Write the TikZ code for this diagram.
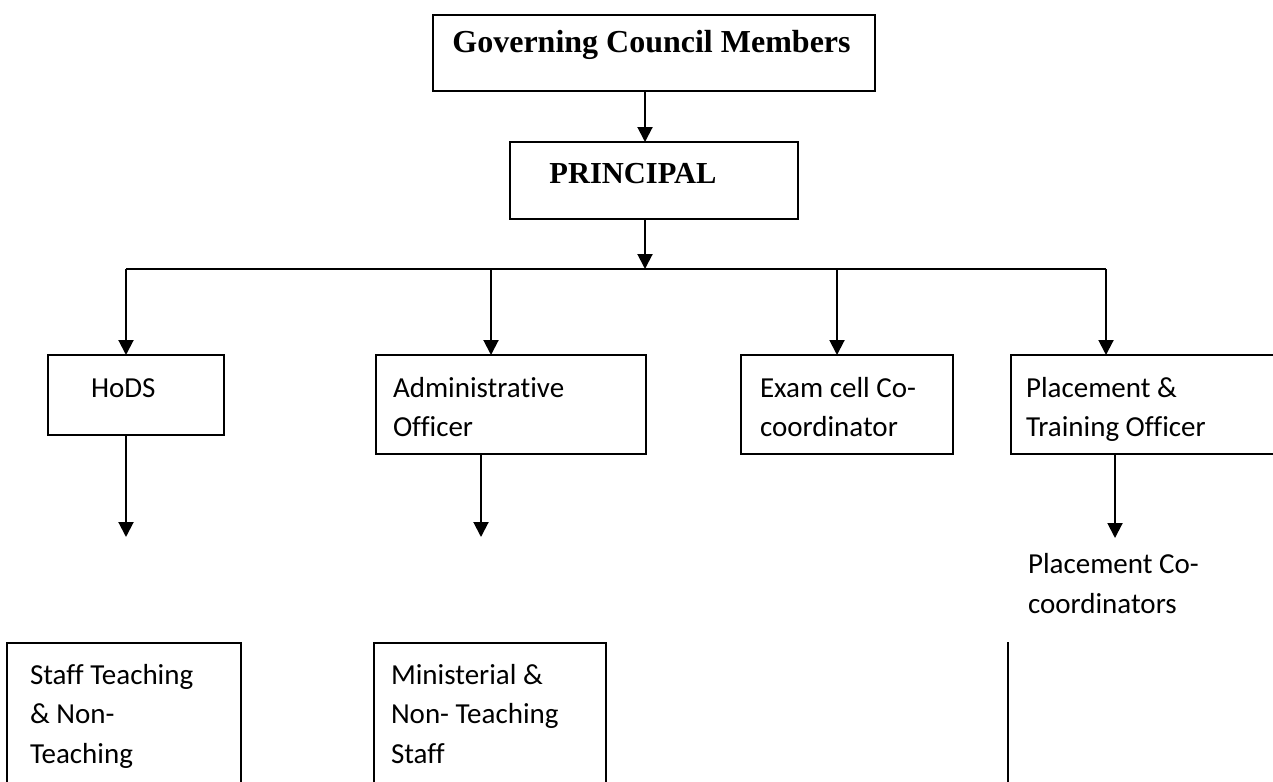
\documentclass[tikz,border=0pt]{standalone}
\usepackage{fontspec}
\setmainfont{Carlito}[Ligatures=NoCommon]
\newfontfamily\tnrbold{Liberation Serif}[BoldFont={Liberation Serif Bold}]
\usetikzlibrary{arrows.meta,calc}
\newcommand{\mlcell}[1]{\begin{tabular}[t]{@{}l@{}}#1\end{tabular}}
\tikzset{
  boxnode/.style={draw, line width=#1, inner sep=0pt, outer sep=0pt, anchor=north west, rectangle},
  boxnode/.default=2pt,
  openbox/.style={inner sep=0pt, outer sep=0pt, anchor=north west, rectangle},
  boxedge/.style={line width=#1, line cap=rect},
  boxedge/.default=2.8pt,
  arr/.style={line width=2pt, -{Triangle[width=15pt,length=15pt]}},
  busline/.style={line width=1.4pt},
  lbl/.style={inner sep=0pt, outer sep=0pt, anchor=base west, font=\fontsize{29}{39.5}\selectfont},
  hdr/.style={inner sep=0pt, outer sep=0pt, anchor=base, font=\tnrbold\bfseries\fontsize{#1}{#1}\selectfont},
}
\begin{document}
\begin{tikzpicture}[x=1pt,y=-1pt]
\useasboundingbox (0,0) rectangle (1273,781);
\fill[white] (0,0) rectangle (1273,781);

% top boxes
\node[boxnode=1.1pt, minimum width=442pt, minimum height=76pt] (gcm) at (433,15) {};
\node[hdr=32] (gcmt) at (651.5,53) {Governing Council Members};
\node[boxnode=1.2pt, minimum width=288pt, minimum height=77pt] (prin) at (510,142) {};
\node[hdr=30.5] (print) at (633,183) {PRINCIPAL};

% second level boxes
\node[boxnode, minimum width=176pt, minimum height=80pt] (hods) at (48,355) {};
\node[lbl] (hodst) at (91,397) {HoDS};
\node[boxnode, minimum width=270pt, minimum height=99pt] (admin) at (376,355) {};
\node[lbl] (admint) at (393,397) {\mlcell{Administrative\\Officer}};
\node[boxnode, minimum width=212pt, minimum height=99pt] (exam) at (741,355) {};
\node[lbl] (examt) at (760,397) {\mlcell{Exam cell Co-\\coordinator}};
\node[openbox, minimum width=275pt, minimum height=99pt] (place) at (1011,355) {};
\draw[boxedge=2pt] (place.north east) -- (place.north west) -- (place.south west) -- (place.south east);
\node[lbl] (placet) at (1026,397) {\mlcell{Placement \&\\Training Officer}};

% placement coordinators (free text)
\node[lbl, font=\fontsize{29}{40}\selectfont] (pcc) at (1028,573) {\mlcell{Placement Co-\\coordinators}};

% bottom boxes (open at bottom)
\node[openbox, minimum width=234pt, minimum height=160pt] (staff) at (7,643) {};
\draw[boxedge] (staff.south west) -- (staff.north west) -- (staff.north east) -- (staff.south east);
\node[lbl, font=\fontsize{29}{39.5}\selectfont] (stafft) at (30,684) {\mlcell{Staff Teaching\\\& Non-\\Teaching}};
\node[openbox, minimum width=232pt, minimum height=160pt] (minis) at (374,643) {};
\draw[boxedge] (minis.south west) -- (minis.north west) -- (minis.north east) -- (minis.south east);
\node[lbl, font=\fontsize{29}{39.5}\selectfont] (minist) at (391,684) {\mlcell{Ministerial \&\\Non- Teaching\\Staff}};

% right vertical line
\coordinate (rtop) at (1008,642);
\coordinate (rbot) at (1008,795);
\draw[line width=2.7pt] (rtop) -- (rbot);

% connectors
\coordinate (spine) at (645,0);
\coordinate (hub) at (645,269);
\draw[arr] (gcm.south -| spine) -- (prin.north -| spine);
\draw[arr] (prin.south -| spine) -- (hub);
\coordinate (b1) at (126,269);
\coordinate (b2) at (491,269);
\coordinate (b3) at (837,269);
\coordinate (b4) at (1106,269);
\draw[busline] (b1) -- (b4);
\draw[arr] (b1) -- (b1 |- hods.north);
\draw[arr] (b2) -- (b2 |- admin.north);
\draw[arr] (b3) -- (b3 |- exam.north);
\draw[arr] (b4) -- (b4 |- place.north);

\coordinate (d1) at (126,537);
\coordinate (d2) at (481,537);
\coordinate (d4) at (1115,538);
\draw[arr] (d1 |- hods.south) -- (d1);
\draw[arr] (d2 |- admin.south) -- (d2);
\draw[arr] (d4 |- place.south) -- (d4);
\end{tikzpicture}
\end{document}
